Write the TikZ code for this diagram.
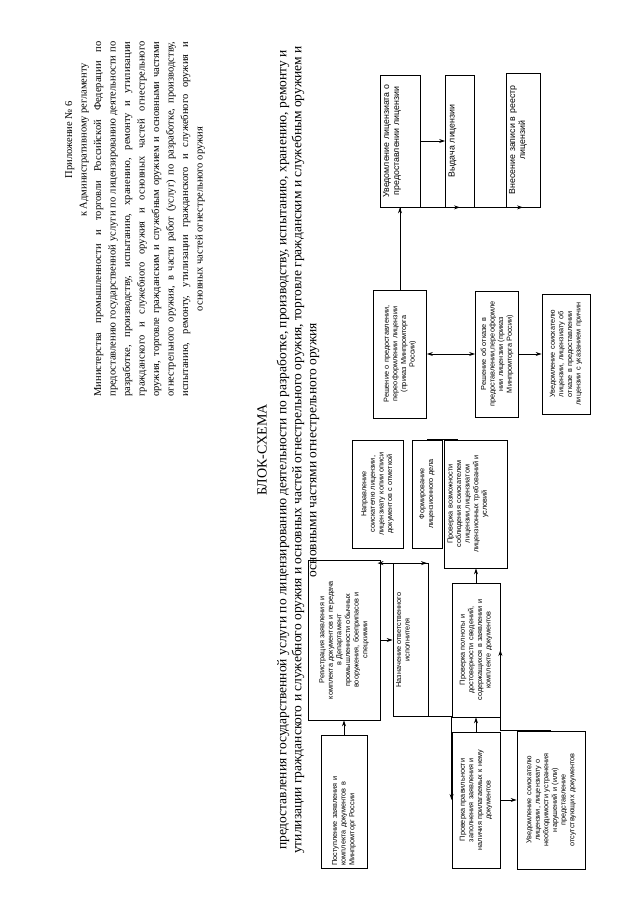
\documentclass[tikz,border=0pt]{standalone}
\usepackage{fontspec}
\setmainfont{Liberation Serif}
\setsansfont{Liberation Sans}
\usetikzlibrary{arrows.meta}
\newcommand{\uptext}[2]{\parbox[c][#1][t]{\hsize}{\centering #2\par}}
\newcommand{\jline}[1]{\makebox[355pt][s]{#1}}
\newcommand{\rline}[1]{\makebox[355pt][c]{\hspace{158pt}#1}}
\tikzset{
  every picture/.style={line width=0.8pt},
  box/.style={draw, align=center, inner sep=3pt, font=\sffamily\fontsize{7.3}{8.6}\selectfont},
  blk/.style 2 args={box, text width=#1, minimum height=#2},
  bigtext/.style={font=\sffamily\fontsize{8.8}{10}\selectfont},
  arrow/.style={-{Stealth[length=6pt, width=4pt]}},
  twoway/.style={{Stealth[length=6pt, width=4pt]}-{Stealth[length=6pt, width=4pt]}},
  title/.style={font=\fontsize{14}{16}\selectfont},
  subtitle/.style={align=center, font=\fontsize{13.5}{15}\selectfont},
  note/.style={align=center, font=\fontsize{10.5}{14.5}\selectfont},
}

\begin{document}
\begin{tikzpicture}[x=1pt, y=1pt, rotate=90, transform shape]
  % the page is turned: -| and |- swap their meaning below
  \useasboundingbox (0,0) rectangle (905,640);
  \node[note] (hdr) at (686,505) {\rline{Приложение № 6}\\\rline{к Административному регламенту}\\
    \jline{Министерства промышленности и торговли Российской Федерации по}\\
    \jline{предоставлению государственной услуги по лицензированию деятельности по}\\
    \jline{разработке, производству, испытанию, хранению, ремонту и утилизации}\\
    \jline{гражданского и служебного оружия и основных частей огнестрельного}\\
    \jline{оружия, торговле гражданским и служебным оружием и основными частями}\\
    \jline{огнестрельного оружия, в части работ (услуг) по разработке, производству,}\\
    \jline{испытанию, ремонту, утилизации гражданского и служебного оружия и}\\
    основных частей огнестрельного оружия};
  \node[title] (ttl) at (455,378) {БЛОК-СХЕМА};
  \node[subtitle] (sub) at (455,342) {предоставления государственной услуги по лицензированию деятельности по разработке, производству, испытанию, хранению, ремонту и\\утилизации гражданского и служебного оружия и основных частей огнестрельного оружия, торговле гражданским и служебным оружием и\\основными частями огнестрельного оружия};

  \node[blk={127pt}{46pt}, align=left] (a) at (103,296) {Поступление заявления и\\комплекта документов в\\Минпромторг России};
  \node[blk={154pt}{72pt}] (b) at (265,296) {Регистрация заявления и\\комплекта документов и передача\\в Департамент\\промышленности обычных\\вооружения, боеприпасов и\\спецхимии};
  \node[blk={147pt}{35pt}] (c) at (265,229.5) {\uptext{29pt}{Назначение ответственного\\исполнителя}};
  \node[blk={102pt}{51pt}] (d) at (411,262.5) {Направление\\соискателю лицензии,\\лицензиату копии описи\\документов с отметкой};
  \node[blk={102pt}{30pt}] (e) at (411,213) {Формирование\\лицензионного дела};
  \node[blk={130pt}{48pt}] (f) at (105,164) {Проверка правильности\\заполнения заявления и\\наличия прилагаемых к нему\\документов};
  \node[blk={128pt}{48pt}] (g) at (255,164) {Проверка полноты и\\достоверности сведений,\\содержащихся в заявлении и\\комплекте документов};
  \node[blk={132pt}{68pt}] (h) at (105,89) {Уведомление соискателю\\лицензии, лицензиату о\\необходимости устранения\\нарушений и (или)\\представление\\отсутствующих документов};
  \node[blk={122pt}{63pt}] (i) at (401,164) {\uptext{57pt}{Проверка возможности\\соблюдения соискателем\\лицензии,лицензиатом\\лицензионных требований и\\условий}};
  \node[blk={122pt}{53pt}] (j) at (551,240) {Решение о предоставлении,\\переоформлении лицензии\\(приказ Минпромторга\\России)};
  \node[blk={120pt}{43pt}] (k) at (551,143) {Решение об отказе в\\предоставлении,переоформле\\нии лицензии (приказ\\Минпромторга России)};
  \node[blk={114pt}{48pt}] (l) at (551,74) {Уведомление соискателю\\лицензии, лицензиату об\\отказе в предоставлении\\лицензии с указанием причин};
  \node[blk={126pt}{40pt}, bigtext] (m) at (764,240) {\uptext{34pt}{Уведомление лицензиата о\\предоставлении лицензии}};
  \node[blk={126pt}{29pt}, bigtext] (n) at (764,180) {\uptext{23pt}{Выдача лицензии}};
  \node[blk={128pt}{34pt}, bigtext] (o) at (765,117) {\uptext{28pt}{Внесение записи в реестр\\лицензий}};
  \coordinate (spine) at (644,240);

  \draw[arrow] (a) -- (b); \draw[arrow] (b) -- (c);
  \draw[arrow] (c.north east) -- (c.north east |- d.west); \draw[arrow] (c.-9) -- (c.-9 |- e.west);
  \draw[arrow] (c.west) |- (f.north);
  \draw[arrow] (f) -- (g); \draw[arrow] (f) -- (h);
  \draw[arrow] (h.east) |- (g.south);
  \draw[arrow] (g) -- (i);
  \draw (i.16) -- (i.16 |- j.south);
  \draw[twoway] (j) -- (k); \draw[arrow] (k) -- (l);
  \draw[arrow] (j) -- (m); \draw[arrow] (m) -- (n);
  \draw[arrow] (spine) -| (o.west);
  \draw[arrow] (n.west |- spine) -- (n.west);
\end{tikzpicture}
\end{document}
